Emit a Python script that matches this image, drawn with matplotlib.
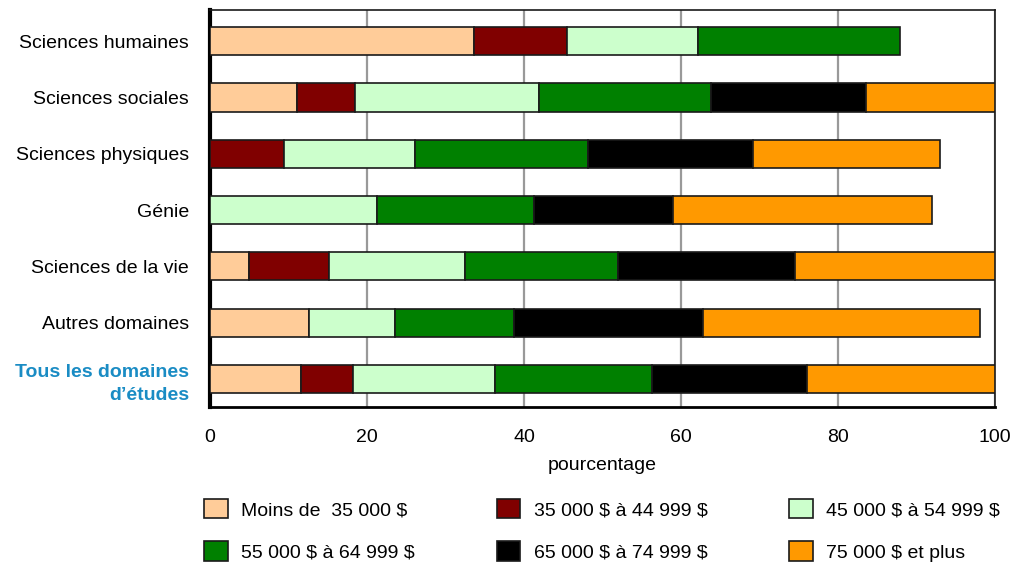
import matplotlib
matplotlib.use("Agg")
import matplotlib.pyplot as plt
from matplotlib.patches import Patch
import numpy as np

plt.rcParams['font.family'] = ['Liberation Sans', 'DejaVu Sans']
plt.rcParams['text.parse_math'] = False

categories = ["Sciences humaines", "Sciences sociales", "Sciences physiques", "Génie",
              "Sciences de la vie", "Autres domaines", "Tous les domaines\nd\u2019études"]
series_names = ["Moins de  35 000 $", "35 000 $ à 44 999 $", "45 000 $ à 54 999 $",
                "55 000 $ à 64 999 $", "65 000 $ à 74 999 $", "75 000 $ et plus"]
moins_35 = [33.6, 11.1, 0.0, 0.0, 5.0, 12.6, 11.6]
s35_45 = [11.9, 7.4, 9.4, 0.0, 10.2, 0.0, 6.6]
s45_55 = [16.7, 23.4, 16.7, 21.3, 17.3, 11.0, 18.1]
s55_65 = [25.7, 21.9, 22.1, 20.0, 19.5, 15.1, 20.0]
s65_75 = [0.0, 19.8, 21.0, 17.7, 22.5, 24.1, 19.8]
s75_plus = [0.0, 16.4, 23.8, 33.0, 25.5, 35.3, 23.9]
xticks = [0, 20, 40, 60, 80, 100]
colors = ["#FFCC99", "#800000", "#CCFFCC", "#008000", "#000000", "#FF9900"]

series = [moins_35, s35_45, s45_55, s55_65, s65_75, s75_plus]

fig = plt.figure(figsize=(10.16, 5.67), dpi=100)
ax = fig.add_axes([0.2067, 0.282, 0.7726, 0.700])

y = np.arange(len(categories))
left = np.zeros(len(categories))
for vals, col in zip(series, colors):
    v = np.array(vals)
    mask = v > 0
    ax.barh(y[mask], v[mask], left=left[mask], height=0.5, color=col,
            edgecolor="#1a1a1a", linewidth=1.2, zorder=3)
    left += v

ax.set_xlim(0, 100)
ax.set_ylim(6.5, -0.55)
ax.set_xticks(xticks)
ax.set_xticklabels([str(t) for t in xticks], fontsize=14)
ax.set_yticks(y)
ax.set_yticklabels(categories, fontsize=14, linespacing=1.5)
lbl = ax.get_yticklabels()[-1]
lbl.set_color("#1a8cc4")
lbl.set_fontweight("bold")
ax.tick_params(axis="both", length=0)
ax.tick_params(axis="y", pad=15)
ax.tick_params(axis="x", pad=16)
ax.xaxis.grid(True, color="#999999", linewidth=1.6, zorder=0)
ax.set_axisbelow(True)
for s in ["top", "right"]:
    ax.spines[s].set_linewidth(1.2)
    ax.spines[s].set_color("#1a1a1a")
ax.spines["left"].set_linewidth(3)
ax.spines["bottom"].set_linewidth(2)
ax.set_xlabel("pourcentage", fontsize=14, labelpad=8)

handles = [Patch(facecolor=c, edgecolor="#1a1a1a", linewidth=1.2, label=n)
           for c, n in zip(colors, series_names)]
order = [0, 3, 1, 4, 2, 5]
fig.legend([handles[i] for i in order], [series_names[i] for i in order],
           loc="lower left", bbox_to_anchor=(0.184, -0.022), ncol=3, frameon=False,
           fontsize=14, columnspacing=4.2, handlelength=1.2, handleheight=1.2,
           handletextpad=0.7, labelspacing=1.15)

fig.savefig("out.png", dpi=100)
